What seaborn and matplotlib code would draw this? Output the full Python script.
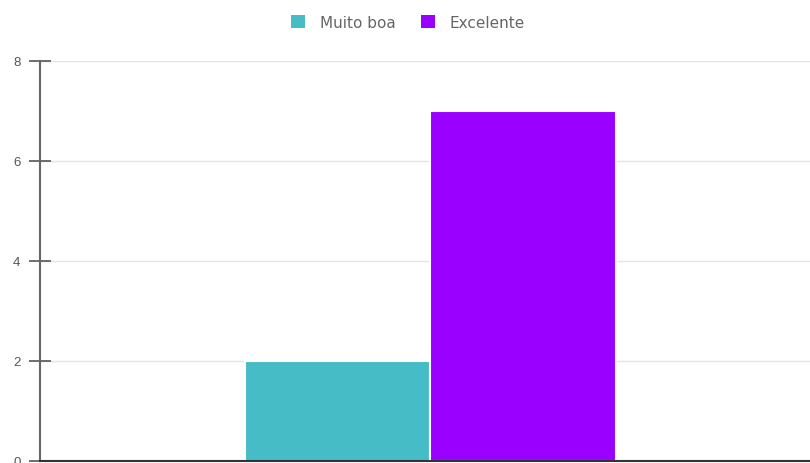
import matplotlib
matplotlib.use("Agg")
import matplotlib.pyplot as plt
from matplotlib.patches import Patch
import seaborn as sns
import pandas as pd

# Ratings and their counts
categories = [""]
series = ["Muito boa", "Excelente"]
counts = [2, 7]
colors = ["#46BDC6", "#9900FF"]
yticks = [0, 2, 4, 6, 8]

df = pd.DataFrame({
    "grupo": categories * len(series),
    "avaliacao": series,
    "total": counts,
})

sns.set_style("white")
plt.rcParams["font.family"] = ["Liberation Sans", "DejaVu Sans"]

fig = plt.figure(figsize=(8.10, 4.64), dpi=100)
ax = fig.add_axes([40 / 810, 2 / 464, 770 / 810, 400 / 464])

sns.barplot(data=df, x="grupo", y="total", hue="avaliacao",
            palette=colors, hue_order=series, width=0.482, saturation=1,
            edgecolor="white", linewidth=1.5, ax=ax, legend=False)

ax.set_xlim(-0.507, 0.493)
ax.set_ylim(0, 8)
ax.set_yticks(yticks)
ax.set_yticklabels([str(t) for t in yticks], color="#555555", fontsize=9.5)
ax.tick_params(axis="y", left=True, length=16, width=1.2, color="#555555",
               direction="inout", pad=6)
ax.tick_params(axis="x", bottom=False, length=0)
ax.set_xticklabels([])
ax.set_xlabel("")
ax.set_ylabel("")
ax.grid(axis="y", color="#e4e4e4", linewidth=1)
ax.set_axisbelow(True)
for s in ["top", "right"]:
    ax.spines[s].set_visible(False)
ax.spines["left"].set_color("#666666")
ax.spines["left"].set_linewidth(1.5)
ax.spines["bottom"].set_color("#333333")
ax.spines["bottom"].set_linewidth(1.5)

handles = [Patch(facecolor=c, edgecolor="none") for c in colors]
fig.legend(handles, series, loc="center", bbox_to_anchor=(408 / 810, 1 - 23 / 464),
           ncol=2, frameon=False, handlelength=0.92, handleheight=0.92,
           handletextpad=0.95, columnspacing=1.64, labelcolor="#666666",
           prop={"family": "DejaVu Sans", "size": 11})

fig.savefig("out.png", dpi=100)
